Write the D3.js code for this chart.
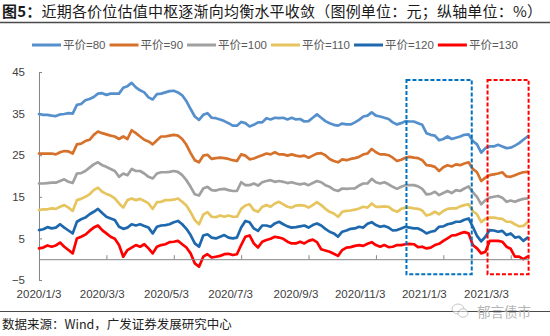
<!DOCTYPE html>
<html>
<head>
<meta charset="utf-8">
<script src="https://cdn.jsdelivr.net/npm/d3@7"></script>
<style>
  body { margin: 0; background: #fff; }
  svg { display: block; font-family: "Liberation Sans", Arial, "Noto Sans CJK SC", sans-serif; }
</style>
</head>
<body>
<svg id="chart" width="550" height="336"></svg>
<script>
// Sample dates (every fourth calendar day)
const dates = [
  "2020-01-03","2020-01-07","2020-01-11","2020-01-15","2020-01-19","2020-01-23","2020-01-27","2020-01-31",
  "2020-02-04","2020-02-08","2020-02-12","2020-02-16","2020-02-20","2020-02-24","2020-02-28","2020-03-03",
  "2020-03-07","2020-03-11","2020-03-15","2020-03-19","2020-03-23","2020-03-27","2020-03-31","2020-04-04",
  "2020-04-08","2020-04-12","2020-04-16","2020-04-20","2020-04-24","2020-04-28","2020-05-02","2020-05-06",
  "2020-05-10","2020-05-14","2020-05-18","2020-05-22","2020-05-26","2020-05-30","2020-06-03","2020-06-07",
  "2020-06-11","2020-06-15","2020-06-19","2020-06-23","2020-06-27","2020-07-01","2020-07-05","2020-07-09",
  "2020-07-13","2020-07-17","2020-07-21","2020-07-25","2020-07-29","2020-08-02","2020-08-06","2020-08-10",
  "2020-08-14","2020-08-18","2020-08-22","2020-08-26","2020-08-30","2020-09-03","2020-09-07","2020-09-11",
  "2020-09-15","2020-09-19","2020-09-23","2020-09-27","2020-10-01","2020-10-05","2020-10-09","2020-10-13",
  "2020-10-17","2020-10-21","2020-10-25","2020-10-29","2020-11-02","2020-11-06","2020-11-10","2020-11-14",
  "2020-11-18","2020-11-22","2020-11-26","2020-11-30","2020-12-04","2020-12-08","2020-12-12","2020-12-16",
  "2020-12-20","2020-12-24","2020-12-28","2021-01-01","2021-01-05","2021-01-09","2021-01-13","2021-01-17",
  "2021-01-21","2021-01-25","2021-01-29","2021-02-02","2021-02-06","2021-02-10","2021-02-14","2021-02-18",
  "2021-02-22","2021-02-26","2021-03-02","2021-03-06","2021-03-10","2021-03-14","2021-03-18","2021-03-22",
  "2021-03-26","2021-03-30","2021-04-03","2021-04-07","2021-04-11"
];

// Median valuation (%) by parity bucket
const parity80 = [
  34.9,34.7,34.7,34.5,34.4,34.8,34.9,35.1,35.0,37.1,37.3,38.2,38.5,39.0,39.8,39.9,
  39.5,39.8,39.8,39.8,41.2,41.6,42.4,41.3,40.6,40.1,38.9,38.4,39.7,39.8,40.1,40.4,
  40.5,40.1,39.4,38.0,36.1,34.3,33.5,34.7,35.1,34.0,33.9,33.6,33.2,32.7,32.1,32.1,
  33.0,32.7,31.9,32.3,32.9,32.9,33.9,33.6,34.0,33.9,34.0,33.6,34.0,33.6,33.7,33.1,
  33.2,34.0,34.8,34.0,33.2,32.7,32.3,32.1,32.6,32.4,32.4,32.9,33.5,34.3,34.5,35.3,
  34.5,34.3,34.0,33.7,32.9,32.4,32.7,33.2,33.1,33.1,32.7,32.3,30.3,29.9,29.7,28.6,
  28.9,29.5,28.9,29.2,29.5,29.9,30.0,28.4,27.6,25.6,26.7,27.1,27.1,27.5,27.1,26.7,
  26.8,27.3,27.9,28.7,29.5
];
const parity90 = [
  25.4,25.4,25.4,25.4,25.2,25.7,26.0,25.9,25.4,27.6,27.8,28.4,28.7,29.9,30.7,30.3,
  30.0,29.7,29.5,28.9,29.5,28.9,31.0,30.3,29.5,28.7,28.3,27.6,28.6,29.5,29.5,29.7,
  29.9,29.7,28.9,27.5,25.5,23.8,23.3,24.9,25.1,24.1,24.3,24.4,24.3,24.1,23.8,23.6,
  25.2,24.9,24.0,24.2,24.6,25.0,25.4,25.2,25.7,25.2,25.2,24.9,25.2,24.9,24.7,24.9,
  24.4,24.9,25.4,25.5,25.0,24.1,23.6,23.3,24.0,23.8,24.1,24.3,24.6,25.2,25.4,26.5,
  25.7,25.2,25.2,25.0,24.4,23.6,23.9,24.4,24.6,24.4,24.3,23.8,22.6,22.5,22.2,21.2,
  22.1,22.6,22.3,22.8,22.6,23.0,23.3,21.7,20.9,18.8,19.6,20.2,20.4,20.6,20.9,19.9,
  19.8,20.2,20.6,20.9,21.0
];
const parity100 = [
  18.2,18.2,18.3,18.4,18.4,18.8,19.2,18.6,18.3,20.6,20.7,21.2,22.0,22.8,23.3,22.6,
  22.2,21.7,21.2,19.8,20.6,20.2,21.7,21.2,21.2,20.6,19.8,19.4,20.6,20.9,20.9,21.0,
  21.2,21.0,20.2,19.0,17.4,15.6,15.3,17.0,17.4,16.6,16.5,16.8,16.9,16.6,16.4,16.4,
  18.5,17.8,17.8,18.2,17.7,18.5,18.8,19.0,18.6,18.8,18.6,18.3,18.5,18.2,18.0,18.2,
  17.8,18.3,18.8,18.5,17.8,17.4,16.7,16.4,17.0,16.9,17.0,17.0,17.7,18.2,18.2,19.3,
  18.5,18.2,18.5,18.0,17.4,16.9,17.4,17.8,17.8,17.8,17.5,16.9,15.6,15.7,16.2,15.4,
  15.9,16.4,15.9,16.6,16.4,17.0,17.5,16.1,15.0,13.2,14.2,14.8,15.0,15.2,14.8,13.8,
  14.1,13.8,14.2,14.5,14.6
];
const parity110 = [
  11.8,12.0,12.0,12.2,12.1,12.6,13.0,12.4,11.6,14.2,14.5,15.0,15.6,16.6,17.2,16.2,
  15.7,15.3,14.6,13.4,12.4,14.2,14.6,14.2,14.5,14.0,13.4,12.1,13.7,13.8,14.2,14.2,
  14.3,14.6,13.8,12.9,11.3,9.4,8.4,10.7,11.3,10.2,10.1,10.5,10.2,10.5,10.2,10.2,
  12.1,12.9,13.2,11.8,11.4,12.6,13.0,12.6,13.4,13.8,13.2,12.6,12.4,12.9,13.0,12.9,
  12.4,13.0,13.7,13.0,12.1,11.4,11.0,10.2,11.4,11.6,11.7,11.9,12.2,12.6,12.4,13.4,
  12.6,12.6,12.7,12.6,11.8,11.4,12.1,12.4,12.4,12.2,12.1,11.7,10.5,10.8,11.4,10.8,
  11.6,12.1,12.2,12.2,12.7,13.0,13.2,11.6,10.8,8.9,9.7,10.0,10.0,9.8,9.7,9.0,
  9.0,8.4,7.9,8.0,8.9
];
const parity120 = [
  7.0,7.2,7.7,7.4,7.6,8.4,7.6,6.9,6.2,9.0,9.6,10.0,10.8,11.4,12.1,11.1,
  10.2,9.8,9.4,7.8,7.3,7.6,8.4,8.1,8.4,8.0,7.6,6.2,7.8,8.1,8.2,8.4,
  8.9,9.2,8.4,7.3,5.8,3.8,3.0,5.7,6.0,5.2,5.0,5.4,5.8,5.2,5.0,5.2,
  7.6,9.2,8.9,7.4,6.8,8.1,8.1,7.8,8.6,9.0,8.4,7.9,7.6,7.7,7.9,8.1,
  7.6,8.2,8.6,8.1,7.3,6.6,6.2,5.4,6.6,6.9,7.3,7.4,7.8,7.6,8.5,8.9,
  8.2,7.8,8.0,7.6,6.9,7.0,7.4,7.8,7.6,7.4,7.4,6.9,6.2,6.6,6.8,7.8,
  7.9,8.4,8.6,9.0,9.0,9.5,9.8,7.8,5.6,4.3,5.4,7.0,6.9,6.6,6.8,5.8,
  6.2,5.2,5.4,4.4,5.2
];
const parity130 = [
  2.6,2.8,3.3,3.0,3.3,4.0,3.0,2.2,1.4,5.0,5.4,5.9,6.8,7.6,8.1,7.0,
  6.2,5.4,4.9,3.4,0.6,2.2,2.8,3.4,3.0,3.6,2.6,1.4,3.0,3.4,3.6,4.1,
  4.2,4.4,3.6,2.8,1.4,-1.0,-1.8,0.6,1.2,0.4,0.6,0.8,1.2,1.3,1.0,1.2,
  3.4,5.4,5.7,3.8,2.8,4.2,4.6,4.9,5.4,5.2,4.9,4.2,3.8,3.8,4.2,3.8,
  4.4,4.7,4.1,2.4,2.1,1.8,1.3,0.8,2.2,2.8,2.9,3.2,3.4,3.2,3.7,4.1,
  3.4,3.0,3.4,2.9,3.0,3.4,3.4,3.6,3.7,3.6,2.9,3.0,2.6,2.8,3.4,3.7,
  4.4,5.0,5.7,5.8,6.2,6.5,6.2,3.4,2.6,1.4,1.8,4.4,4.4,4.4,4.2,3.0,
  2.5,0.6,0.6,0.0,0.6
];

const seriesNames = ["平价=80", "平价=90", "平价=100", "平价=110", "平价=120", "平价=130"];
const seriesValues = [parity80, parity90, parity100, parity110, parity120, parity130];

// Axis definitions
const xDomain = ["2020-01-03", "2021-04-12"];
const xLabelDates = ["2020-01-03","2020-03-03","2020-05-03","2020-07-03","2020-09-03","2020-11-03","2021-01-03","2021-03-03"];
const xTickDates = ["2020-03-07","2020-05-10","2020-07-13","2020-09-15","2020-11-18","2021-01-21","2021-03-26"];
const yTicks = [45, 35, 25, 15, 5, -5];
const yDomain = [-5, 45];

// Highlighted periods: [start, end, upper value, lower value]
const highlightPeriods = [
  ["2020-12-17", "2021-02-17", 43.1, -3.6],
  ["2021-03-04", "2021-04-12", 43.1, -3.6]
];

// Styling
const seriesColors = ["#5590CC", "#D6712C", "#A0A0A0", "#E6C45E", "#1E68AE", "#FF0000"];
const highlightColors = ["#0070C0", "#FF0000"];
const cjk = '"Noto Sans CJK SC", sans-serif';
const latin = '"Liberation Sans", Arial, "Noto Sans CJK SC", sans-serif';

const parse = d3.timeParse("%Y-%m-%d");
const svg = d3.select("#chart");

const x = d3.scaleTime().domain(xDomain.map(parse)).range([39, 528.6]);
const y = d3.scaleLinear().domain(yDomain).range([280, 72]);

// Title and rules
const title = svg.append("text")
  .attr("x", 2).attr("y", 16.5)
  .attr("font-family", cjk).attr("font-size", 15).attr("fill", "#1a1a1a")
  .attr("textLength", 540).attr("lengthAdjust", "spacing");
title.append("tspan").attr("font-weight", "bold").text("图5：");
title.append("tspan").text("近期各价位估值中枢逐渐向均衡水平收敛（图例单位：元；纵轴单位：%）");

svg.append("line").attr("x1", 0).attr("x2", 550).attr("y1", 22.5).attr("y2", 22.5)
  .attr("stroke", "#4a4a4a").attr("stroke-width", 1.6);
svg.append("line").attr("x1", 0).attr("x2", 550).attr("y1", 311.5).attr("y2", 311.5)
  .attr("stroke", "#4a4a4a").attr("stroke-width", 1.2);

// Source note
svg.append("text")
  .attr("x", 2).attr("y", 329)
  .attr("font-family", cjk).attr("font-size", 12.5).attr("fill", "#222")
  .text("数据来源：Wind，广发证券发展研究中心");

// Legend
const legend = svg.append("g").attr("transform", "translate(32,45)");
let lx = 0;
seriesNames.forEach((name, i) => {
  legend.append("line")
    .attr("x1", lx).attr("x2", lx + 29).attr("y1", 0).attr("y2", 0)
    .attr("stroke", seriesColors[i]).attr("stroke-width", 3);
  const t = legend.append("text")
    .attr("x", lx + 31).attr("y", 4)
    .attr("font-family", latin).attr("font-size", 11.5).attr("fill", "#595959")
    .text(name);
  lx += 31 + t.node().getComputedTextLength() + 4;
});

// Y axis
const yAxis = svg.append("g").attr("transform", "translate(39,0)")
  .call(d3.axisLeft(y).tickValues(yTicks).tickSizeInner(-3).tickSizeOuter(0).tickPadding(14));
yAxis.select(".domain").attr("stroke", "#868686");
yAxis.selectAll(".tick line").attr("stroke", "#868686");
yAxis.selectAll(".tick text").attr("fill", "#404040").attr("font-size", 11.5).attr("font-family", latin);

// Series lines
const line = d3.line()
  .x((d, i) => x(parse(dates[i])))
  .y(d => y(d));

const plot = svg.append("g");
seriesValues.forEach((vals, i) => {
  plot.append("path")
    .datum(vals)
    .attr("d", line)
    .attr("fill", "none")
    .attr("stroke", seriesColors[i])
    .attr("stroke-width", 2.7)
    .attr("stroke-linejoin", "round")
    .attr("stroke-linecap", "round");
});

// X axis along zero
const xAxis = svg.append("g").attr("transform", `translate(0,${y(0)})`)
  .call(d3.axisBottom(x).tickValues(xTickDates.map(parse)).tickSizeInner(-4).tickSizeOuter(0).tickFormat(""));
xAxis.select(".domain").attr("stroke", "#868686");
xAxis.selectAll(".tick line").attr("stroke", "#868686");

// Date labels
const fmt = d => `${d.getFullYear()}/${d.getMonth() + 1}/${d.getDate()}`;
svg.append("g").selectAll("text")
  .data(xLabelDates.map(parse))
  .join("text")
  .attr("x", d => x(d))
  .attr("y", 298)
  .attr("text-anchor", "middle")
  .attr("font-family", latin).attr("font-size", 11.5).attr("fill", "#404040")
  .text(fmt);

// Highlight boxes
svg.append("g").selectAll("rect")
  .data(highlightPeriods)
  .join("rect")
  .attr("x", d => x(parse(d[0])))
  .attr("y", d => y(d[2]))
  .attr("width", d => x(parse(d[1])) - x(parse(d[0])))
  .attr("height", d => y(d[3]) - y(d[2]))
  .attr("fill", "none")
  .attr("stroke", (d, i) => highlightColors[i])
  .attr("stroke-width", 2)
  .attr("stroke-dasharray", "4,2");

// Account mark
const mark = svg.append("g").attr("transform", "translate(452,304)").attr("opacity", 0.55);
mark.append("ellipse").attr("cx", 6).attr("cy", 5).attr("rx", 6).attr("ry", 5)
  .attr("fill", "#fff").attr("stroke", "#999").attr("stroke-width", 1);
mark.append("ellipse").attr("cx", 11).attr("cy", 9).attr("rx", 5).attr("ry", 4.2)
  .attr("fill", "#fff").attr("stroke", "#999").attr("stroke-width", 1);
svg.append("text")
  .attr("x", 477).attr("y", 317)
  .attr("font-family", cjk).attr("font-size", 13.5).attr("fill", "#b5b5b5")
  .text("郁言债市");
</script>
</body>
</html>
